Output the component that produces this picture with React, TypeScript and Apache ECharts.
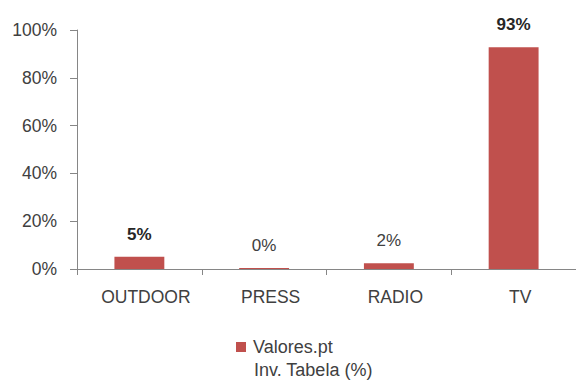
import React, { useEffect, useRef } from "react";
import * as echarts from "echarts";

const categories = ["OUTDOOR", "PRESS", "RADIO", "TV"];
const values = [5.1, 0.4, 2.4, 92.8];
const labelTexts = ["5%", "0%", "2%", "93%"];
const boldLabels = [true, false, false, true];
const seriesName = "Valores.pt";
const legendSubtitle = "Inv. Tabela (%)";

const FONT = "Liberation Sans";

export default function App() {
  const ref = useRef<HTMLDivElement>(null);
  useEffect(() => {
    if (!ref.current) return;
    const chart = echarts.init(ref.current, null, { renderer: "svg" });
    chart.setOption({
      animation: false,
      textStyle: { fontFamily: FONT },
      grid: { left: 77, right: -9, top: 30, bottom: 112, containLabel: false },
      legend: {
        left: 236,
        top: 338,
        itemWidth: 10,
        itemHeight: 10,
        icon: "rect",
        padding: 0,
        data: [seriesName],
        textStyle: { fontFamily: FONT, fontSize: 18, color: "#404040", padding: [0, 0, 0, 2] },
      },
      graphic: [
        {
          type: "text",
          left: 254,
          top: 361,
          style: { text: legendSubtitle, font: `18px "${FONT}"`, fill: "#404040" },
        },
      ],
      xAxis: {
        type: "category",
        data: categories,
        axisLine: { lineStyle: { color: "#868686", width: 1 } },
        axisTick: { show: true, alignWithLabel: false, length: 6, lineStyle: { color: "#868686" } },
        axisLabel: { fontFamily: FONT, fontSize: 17.5, color: "#404040", margin: 19, padding: [0, 0, 0, 13] },
      },
      yAxis: {
        type: "value",
        min: 0,
        max: 100,
        interval: 20,
        axisLine: { show: true, lineStyle: { color: "#868686", width: 1 } },
        axisTick: { show: true, length: 7, lineStyle: { color: "#868686" } },
        splitLine: { show: false },
        axisLabel: { fontFamily: FONT, fontSize: 17.5, color: "#404040", margin: 20, formatter: "{value}%" },
      },
      series: [
        {
          name: seriesName,
          type: "bar",
          barWidth: "40%",
          itemStyle: { color: "#C0504D" },
          data: values.map((v, i) => ({
            value: v,
            label: {
              show: true,
              position: "top",
              distance: 14,
              formatter: labelTexts[i],
              fontFamily: FONT,
              fontSize: 17,
              fontWeight: boldLabels[i] ? "bold" : "normal",
              color: boldLabels[i] ? "#262626" : "#404040",
            },
          })),
        },
      ],
    });
    return () => chart.dispose();
  }, []);
  return (
    <div
      ref={ref}
      style={{ width: 576, height: 381, position: "absolute", left: 0, top: 0 }}
    />
  );
}
